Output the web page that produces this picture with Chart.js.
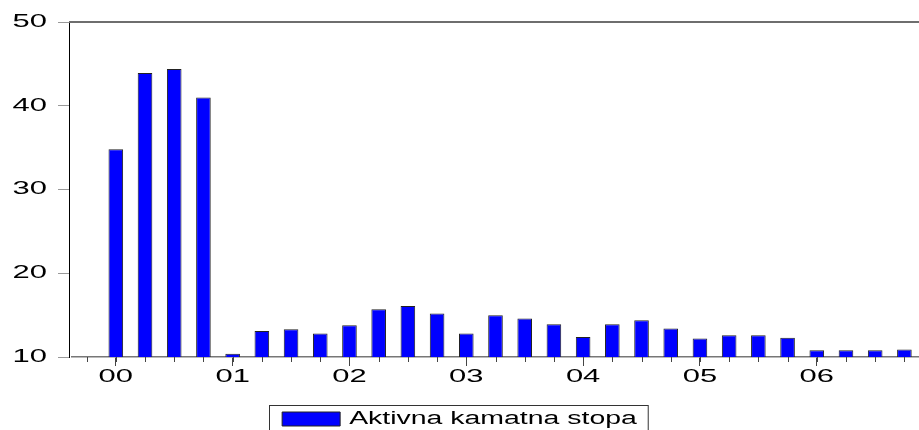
<!DOCTYPE html>
<html>
<head>
<meta charset="utf-8">
<script src="https://cdn.jsdelivr.net/npm/chart.js@4/dist/chart.umd.min.js"></script>
<style>
  html, body { margin: 0; padding: 0; background: #fff; }
  canvas { display: block; }
</style>
</head>
<body>
<canvas id="myChart" width="919" height="430"></canvas>
<script>
// Quarterly data, 2000Q1 - 2006Q4
var years = ['00', '01', '02', '03', '04', '05', '06'];
var rate = [34.8, 43.9, 44.4, 41.0,
            10.4, 13.1, 13.3, 12.8,
            13.8, 15.7, 16.1, 15.2,
            12.8, 15.0, 14.6, 13.9,
            12.4, 13.9, 14.4, 13.4,
            12.2, 12.6, 12.6, 12.3,
            10.8, 10.8, 10.8, 10.9];
var yTicks = [10, 20, 30, 40, 50];

// one empty slot before 2000Q1, then a label on every first quarter
var labels = [''];
years.forEach(function (y) { labels.push(y, '', '', ''); });
var values = [null].concat(rate);

var canvas = document.getElementById('myChart');
var ctx = canvas.getContext('2d');

// the original graph has horizontally stretched lettering
function stretchFor(text) {
    return /^\d+$/.test(String(text)) ? 1.72 : 1.58;
}
var origFill = ctx.fillText.bind(ctx);
var origMeasure = ctx.measureText.bind(ctx);
ctx.fillText = function (text, x, y) {
    ctx.save();
    ctx.translate(x, y);
    ctx.scale(stretchFor(text), 1);
    origFill(text, 0, 0);
    ctx.restore();
};
ctx.measureText = function (text) {
    var m = origMeasure(text), k = stretchFor(text);
    return {
        width: m.width * k,
        actualBoundingBoxAscent: m.actualBoundingBoxAscent,
        actualBoundingBoxDescent: m.actualBoundingBoxDescent,
        actualBoundingBoxLeft: m.actualBoundingBoxLeft * k,
        actualBoundingBoxRight: m.actualBoundingBoxRight * k
    };
};

Chart.defaults.font.family = '"Liberation Sans", Arial, sans-serif';
Chart.defaults.font.size = 18;
Chart.defaults.color = '#000';

var extras = {
    id: 'extras',
    afterLayout: function (chart) {
        // categories start a few pixels right of the value axis
        var x = chart.scales.x;
        x.left += 3;
        x.configure();
    },
    afterDraw: function (chart) {
        var c = chart.ctx, a = chart.chartArea, x = chart.scales.x;
        c.save();
        // top frame line
        c.strokeStyle = '#6e6e6e';
        c.lineWidth = 2;
        c.beginPath();
        c.moveTo(a.left, a.top);
        c.lineTo(a.right, a.top);
        c.stroke();
        // short ticks on every quarter
        c.strokeStyle = '#444';
        c.lineWidth = 1;
        c.beginPath();
        for (var i = 0; i < labels.length; i++) {
            var px = Math.round(x.getPixelForTick(i)) + 0.5;
            c.moveTo(px, a.bottom);
            c.lineTo(px, a.bottom + 5);
        }
        c.stroke();
        // box round the legend
        var hb = chart.legend.legendHitBoxes[0];
        if (hb) {
            c.strokeStyle = '#333';
            c.strokeRect(Math.round(hb.left - 13) + 0.5, Math.round(hb.top - 5) + 0.5, hb.width + 24, 40);
        }
        c.restore();
    }
};

var myChart = new Chart(ctx, {
    type: 'bar',
    data: {
        labels: labels,
        datasets: [{
            label: 'Aktivna kamatna stopa',
            data: values,
            backgroundColor: '#0000ff',
            borderColor: '#222',
            borderWidth: 1,
            categoryPercentage: 1,
            barPercentage: 0.5
        }]
    },
    options: {
        responsive: false,
        animation: false,
        layout: { padding: { top: 22, right: 0, bottom: 0, left: 0 } },
        plugins: {
            tooltip: { enabled: false },
            legend: {
                position: 'bottom',
                maxHeight: 30,
                labels: {
                    boxWidth: 58,
                    boxHeight: 14,
                    padding: 10,
                    font: { size: 18 }
                }
            }
        },
        scales: {
            x: {
                grid: {
                    drawOnChartArea: false,
                    offset: false,
                    tickLength: 9,
                    color: function (c) {
                        return c.tick && c.tick.label ? '#444' : 'rgba(0,0,0,0)';
                    }
                },
                border: { color: '#777', width: 1.5 },
                ticks: { autoSkip: false, maxRotation: 0, padding: 0 },
                afterFit: function (s) { s.height = 43; }
            },
            y: {
                min: 10,
                max: 50,
                afterBuildTicks: function (s) {
                    s.ticks = yTicks.map(function (v) { return { value: v }; });
                },
                grid: { drawOnChartArea: false, tickLength: 11, color: '#999' },
                border: { color: '#000', width: 1 },
                ticks: { padding: 11 },
                afterFit: function (s) { s.width = 69; }
            }
        }
    },
    plugins: [extras]
});
</script>
</body>
</html>
